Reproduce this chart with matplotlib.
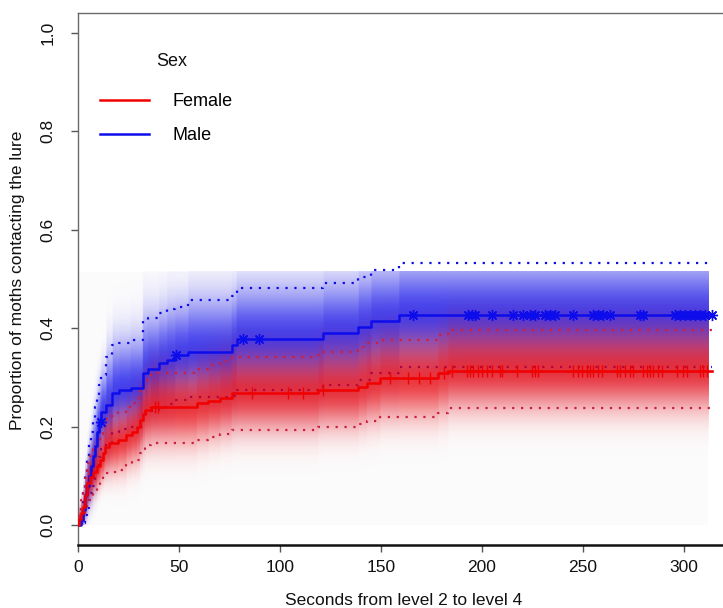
import numpy as np
import matplotlib
matplotlib.use("Agg")
import matplotlib.pyplot as plt
from matplotlib.lines import Line2D

plt.rcParams['font.family'] = ['Liberation Sans', 'DejaVu Sans']

# ---------------- data ----------------
legend_title = "Sex"
group_names = ["Female", "Male"]

female_t = [0.5, 1.5, 2.5, 3.5, 4.5, 6, 7.5, 9.5, 11, 12.5, 13.5, 15.5, 20, 24, 26.5, 29,
            30.7, 32, 33.2, 36, 58.7, 64.5, 70.3, 76, 119, 138.8, 142.9, 149.5, 178.4, 183.3]
female_est = [0.012, 0.024, 0.036, 0.06, 0.085, 0.097, 0.108, 0.12, 0.132, 0.146, 0.159, 0.166,
              0.173, 0.183, 0.19, 0.2, 0.213, 0.225, 0.234, 0.24, 0.247, 0.252, 0.258, 0.268,
              0.274, 0.281, 0.289, 0.298, 0.308, 0.314]
female_hi = [0.03, 0.05, 0.065, 0.095, 0.125, 0.14, 0.155, 0.17, 0.185, 0.2, 0.215, 0.222,
             0.23, 0.24, 0.248, 0.258, 0.272, 0.285, 0.295, 0.308, 0.318, 0.325, 0.333, 0.342,
             0.352, 0.362, 0.369, 0.376, 0.386, 0.396]
female_lo = [0.0, 0.005, 0.012, 0.03, 0.05, 0.058, 0.07, 0.08, 0.091, 0.1, 0.105, 0.108,
             0.112, 0.122, 0.127, 0.132, 0.146, 0.155, 0.163, 0.166, 0.173, 0.179, 0.185, 0.193,
             0.2, 0.206, 0.212, 0.22, 0.228, 0.237]
female_cens = [38, 39.8, 86, 104, 111.5, 121.4, 154.5, 163.6, 169, 174.3, 181, 185, 192.4,
               194.1, 195.7, 198.2, 199.8, 202.3, 204.8, 208.9, 209.8, 217.2, 224.6, 226.2,
               227.9, 245.2, 247.7, 249.3, 251.8, 253.5, 255.1, 257.6, 259.2, 266.7, 268.3,
               270.8, 273.3, 274.9, 279.9, 281.5, 283.2, 284.8, 287.3, 289, 296.4, 299.7,
               301.3, 307.9, 309.6, 311.2]

male_t = [1.5, 2.5, 3.5, 4.5, 5.5, 6.5, 7.5, 8.5, 9.5, 10.5, 11.5, 14, 17, 20.5, 26, 32,
          34.5, 40, 44, 48, 54.6, 76, 78.5, 121.4, 138.8, 145, 159]
male_est = [0.01, 0.03, 0.06, 0.08, 0.1, 0.12, 0.14, 0.16, 0.19, 0.21, 0.23, 0.244, 0.268,
            0.274, 0.278, 0.308, 0.318, 0.329, 0.335, 0.346, 0.352, 0.366, 0.379, 0.39,
            0.402, 0.415, 0.427]
male_hi = [0.04, 0.07, 0.11, 0.14, 0.165, 0.19, 0.215, 0.24, 0.265, 0.285, 0.305, 0.342,
           0.366, 0.37, 0.376, 0.417, 0.42, 0.43, 0.44, 0.444, 0.457, 0.465, 0.481, 0.491,
           0.505, 0.518, 0.533]
male_lo = [0.0, 0.005, 0.02, 0.035, 0.05, 0.065, 0.08, 0.095, 0.12, 0.138, 0.155, 0.165,
           0.19, 0.195, 0.2, 0.225, 0.232, 0.24, 0.245, 0.255, 0.26, 0.262, 0.274, 0.285,
           0.295, 0.308, 0.322]
male_cens = [11.2, 48.5, 81.6, 89.8, 166, 193.2, 194.9, 196.5, 204.8, 215.5, 220.5, 223.8,
             226.2, 231.2, 233.7, 236.1, 245.2, 255.1, 257.6, 260, 263.4, 278.2, 279.9,
             295.5, 298, 300.5, 303, 305.4, 307.9, 310.4, 313.7]

follow_end = 313.8
x_ticks = [0, 50, 100, 150, 200, 250, 300]
y_ticks = [0.0, 0.2, 0.4, 0.6, 0.8, 1.0]
x_label = "Seconds from level 2 to level 4"
y_label = "Proportion of moths contacting the lure"

# ---------------- figure ----------------
W, H = 723, 608
fig = plt.figure(figsize=(W / 100, H / 100), dpi=100)
ax_l, ax_r, ax_t, ax_b = 78, 729, 13, 545
ax = fig.add_axes([ax_l / W, 1 - ax_b / H, (ax_r - ax_l) / W, (ax_b - ax_t) / H])
ax.set_xlim(0, 322.3)
ax.set_ylim(-0.0407, 1.0407)

RED = (0.94, 0.0, 0.0)
BLUE = (0.05, 0.05, 0.92)

shade_end = 312.0
shade_top = 0.515

# faint background of the shading grid
ax.fill_between([0, shade_end], 0, shade_top, color=(0.988, 0.985, 0.988), lw=0, zorder=0)


def full(t, v):
    return np.r_[0.0, np.asarray(t, float)], np.r_[0.0, np.asarray(v, float)]


def shade(t, est, lo, hi, rgb, amax, spread, z):
    tt, ee = full(t, est)
    _, ll = full(t, lo)
    _, hh = full(t, hi)
    xs = np.linspace(0, shade_end, 1400)
    ys = np.linspace(0, shade_top, 500)
    idx = np.searchsorted(tt, xs, side='right') - 1
    e = ee[idx][None, :]
    sdu = np.maximum((hh[idx] - ee[idx]) / spread, 0.015)[None, :]
    sdd = np.maximum((ee[idx] - ll[idx]) / spread, 0.015)[None, :]
    Y = ys[:, None]
    sd = np.where(Y > e, sdu, sdd)
    a = amax * np.exp(-0.5 * ((Y - e) / sd) ** 2)
    img = np.zeros((len(ys), len(xs), 4))
    img[..., 0], img[..., 1], img[..., 2] = rgb
    img[..., 3] = a
    ax.imshow(img, extent=[0, shade_end, 0, shade_top], origin='lower', aspect='auto',
              interpolation='bilinear', zorder=z)


def step_line(t, v, **kw):
    tt, vv = full(t, v)
    ax.step(np.r_[tt, follow_end], np.r_[vv, vv[-1]], where='post', **kw)


def at(t, est, q):
    tt, ee = full(t, est)
    return ee[np.searchsorted(tt, np.asarray(q, float), side='right') - 1]


# male (blue)
shade(male_t, male_est, male_lo, male_hi, BLUE, 0.78, 1.45, 1)
dot = (0, (1, 3))
step_line(male_t, male_hi, color=BLUE, lw=1.6, ls=dot, zorder=2)
step_line(male_t, male_lo, color=BLUE, lw=1.6, ls=dot, zorder=2)
# female (red)
shade(female_t, female_est, female_lo, female_hi, RED, 0.75, 1.45, 3)
step_line(female_t, female_hi, color=(0.8, 0.12, 0.25), lw=1.6, ls=dot, zorder=4)
step_line(female_t, female_lo, color=(0.8, 0.12, 0.25), lw=1.6, ls=dot, zorder=4)

step_line(male_t, male_est, color=BLUE, lw=1.8, zorder=5)
step_line(female_t, female_est, color=RED, lw=1.8, zorder=6)
ax.plot(male_cens, at(male_t, male_est, male_cens), ls='none', marker=(8, 2, 0),
        ms=8, mew=1.0, color=BLUE, zorder=7)
ax.plot(female_cens, at(female_t, female_est, female_cens), ls='none', marker='+',
        ms=9, mew=1.0, color=RED, zorder=7)

# axes style
for s in ['left', 'top']:
    ax.spines[s].set_color('#6a6a6a')
    ax.spines[s].set_linewidth(1.0)
ax.spines['bottom'].set_color('#111111')
ax.spines['bottom'].set_linewidth(1.8)
ax.spines['right'].set_visible(False)
ax.set_xticks(x_ticks)
ax.set_xticklabels([str(v) for v in x_ticks])
ax.set_yticks(y_ticks)
ax.set_yticklabels([f"{v:.1f}" for v in y_ticks], rotation=90, va='center')
ax.tick_params(axis='x', length=5, width=1, color='#555555', labelsize=12.5, pad=6,
               labelcolor='#111111')
ax.tick_params(axis='y', length=5, width=1, color='#555555', labelsize=12.5, pad=11,
               labelcolor='#111111')
ax.set_xlabel(x_label, fontsize=12.5, labelpad=13, color='#111111')
fig.text(18 / W, 1 - 280 / H, y_label, rotation=90, ha='center', va='center',
         fontsize=12.5, color='#111111')

# legend
handles = [Line2D([], [], color=RED, lw=1.8), Line2D([], [], color=BLUE, lw=1.8)]
leg = ax.legend(handles, group_names, loc='upper left', frameon=False,
                bbox_to_anchor=(100 / W, 1 - 93 / H), bbox_transform=fig.transFigure,
                borderpad=0, borderaxespad=0, handlelength=2.7, handletextpad=1.3,
                labelspacing=0.95, fontsize=13)
fig.text(172 / W, 1 - 61 / H, legend_title, ha='center', va='center', fontsize=13,
         color='#111111')

fig.savefig("out.png", dpi=100)
